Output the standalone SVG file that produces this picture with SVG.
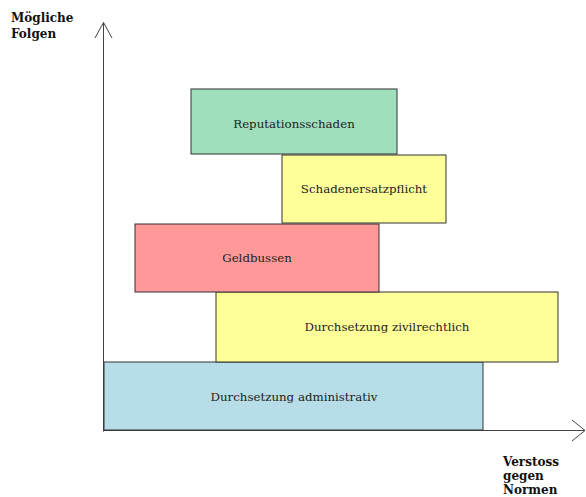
<svg xmlns="http://www.w3.org/2000/svg" width="586" height="497" viewBox="0 0 586 497">
<style>
.box{stroke:#333;stroke-width:1}
.lbl{font-family:"DejaVu Serif","Liberation Serif",serif;font-size:11.8px;fill:#222;text-anchor:middle;dominant-baseline:central}
.ax{font-family:"DejaVu Serif","Liberation Serif",serif;font-size:12px;font-weight:bold;fill:#111}
.axis{stroke:#444;stroke-width:1;fill:none}
</style>
<rect width="586" height="497" fill="#fff"/>
<g id="connectors">
<path class="axis" d="M103.5,431.5 V22.5 M95,38 L103.5,22.5 L112,38"/>
<path class="axis" d="M103.5,430.5 H585 M572,420 L585,430.5 L572,441"/>
</g>
<g id="admin"><rect class="box" x="104" y="362" width="379" height="68" fill="#b7dde8"/><text class="lbl" x="294" y="397">Durchsetzung administrativ</text></g>
<g id="zivil"><rect class="box" x="216" y="292" width="342" height="70" fill="#ffff99"/><text class="lbl" x="387" y="327">Durchsetzung zivilrechtlich</text></g>
<g id="geld"><rect class="box" x="135" y="224" width="244" height="68" fill="#ff9999"/><text class="lbl" x="257" y="258">Geldbussen</text></g>
<g id="ersatz"><rect class="box" x="282" y="155" width="164" height="68" fill="#ffff99"/><text class="lbl" x="364" y="189">Schadenersatzpflicht</text></g>
<g id="reput"><rect class="box" x="191" y="89" width="206" height="65" fill="#9fdfbb"/><text class="lbl" x="294" y="124">Reputationsschaden</text></g>
<g id="ylabel"><text class="ax" x="11" y="22">Mögliche</text><text class="ax" x="11" y="38">Folgen</text></g>
<g id="xlabel"><text class="ax" x="503" y="466">Verstoss</text><text class="ax" x="503" y="480">gegen</text><text class="ax" x="503" y="494">Normen</text></g>
</svg>
